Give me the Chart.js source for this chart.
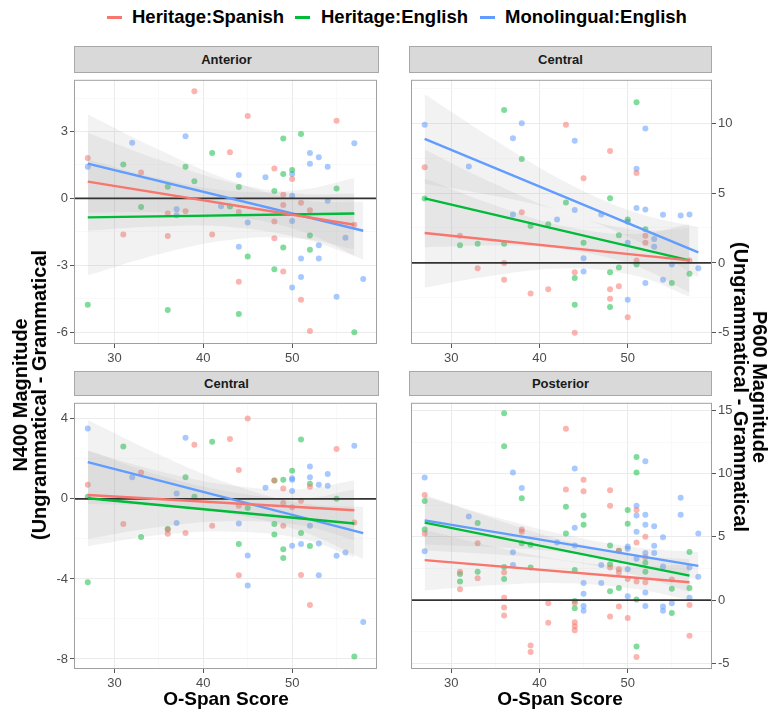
<!DOCTYPE html>
<html>
<head>
<meta charset="utf-8">
<script src="https://cdn.jsdelivr.net/npm/chart.js@4.4.0/dist/chart.umd.min.js"></script>
<style>
  html, body { margin: 0; padding: 0; background: #fff; }
  #fig { position: relative; width: 773px; height: 711px; overflow: hidden; font-family: 'Liberation Sans', Arial, sans-serif; color: #000; }
  canvas { position: absolute; }
  .strip { position: absolute; box-sizing: border-box; background: #d9d9d9; border: 1px solid #a8a8a8; font-weight: bold; font-size: 13px; color: #1a1a1a; text-align: center; }
  .key { position: absolute; top: 16px; height: 3px; }
  .leg { position: absolute; top: 6px; font-weight: bold; font-size: 18.5px; line-height: 22px; white-space: nowrap; }
  .xt { position: absolute; top: 688px; font-weight: bold; font-size: 19px; line-height: 22px; white-space: nowrap; transform: translateX(-50%); }
  .yt { position: absolute; font-weight: bold; font-size: 20px; line-height: 19px; white-space: nowrap; text-align: center; }
</style>
</head>
<body>
<div id="fig">
  <div class="key" style="left:107px;width:15px;background:#F8766D"></div>
  <div class="leg" style="left:132px">Heritage:Spanish</div>
  <div class="key" style="left:295px;width:15px;background:#00BA38"></div>
  <div class="leg" style="left:321px">Heritage:English</div>
  <div class="key" style="left:480px;width:15px;background:#619CFF"></div>
  <div class="leg" style="left:505px">Monolingual:English</div>

  <div class="strip" style="left:74px;top:46px;width:305px;height:27px;line-height:25px">Anterior</div>
  <div class="strip" style="left:409px;top:46px;width:303px;height:27px;line-height:25px">Central</div>
  <div class="strip" style="left:74px;top:371px;width:305px;height:25px;line-height:23px">Central</div>
  <div class="strip" style="left:409px;top:371px;width:303px;height:25px;line-height:23px">Posterior</div>

  <canvas id="c1" width="347" height="302" style="left:34px;top:70px"></canvas>
  <canvas id="c2" width="345" height="302" style="left:407px;top:70px"></canvas>
  <canvas id="c3" width="347" height="304" style="left:34px;top:393px"></canvas>
  <canvas id="c4" width="345" height="304" style="left:407px;top:393px"></canvas>

  <div class="xt" style="left:226px">O-Span Score</div>
  <div class="xt" style="left:560px">O-Span Score</div>
  <div class="yt" style="left:30px;top:395px;transform:translate(-50%,-50%) rotate(-90deg)">N400 Magnitude<br>(Ungrammatical - Grammatical</div>
  <div class="yt" style="left:750px;top:387px;transform:translate(-50%,-50%) rotate(90deg)">P600 Magnitude<br>(Ungrammatical - Grammatical</div>
</div>
<script>
// x axis: O-Span score
const xRange = [25.45, 59.55];
const xTicks = [30, 40, 50];
const xMinor = [35, 45, 55];

// N400, Anterior
const antRange = [-6.53, 5.32];
const antTicks = [-6, -3, 0, 3];
const antSpanish = [[27,1.81],[39,4.81],[33,1.16],[31,-1.62],[36,-0.68],[36,-1.69],[38,-0.58],[41,-1.62],[43,2.07],[45,3.70],[44,-0.61],[44,-3.74],[48,1.34],[48,-1.04],[48,-1.79],[49,0.16],[49,-0.29],[49,-3.28],[50,0.87],[51,-0.2],[51,-4.54],[52,-0.53],[52,-5.95],[55,3.48],[57,-1.18]];
const antEnglish = [[27,-4.77],[31,1.52],[33,-0.39],[36,0.52],[36,-5.01],[38,1.42],[39,0.77],[41,2.04],[43,-0.36],[44,0.51],[44,-5.19],[45,-2.6],[48,0.33],[48,-3.18],[49,2.69],[49,1.10],[49,-2.2],[50,1.27],[51,2.89],[52,-1.66],[52,-2.3],[55,0.45],[57,-6.0]];
const antMono = [[27,1.42],[32,2.5],[38,2.79],[37,-0.49],[37,-0.75],[42,-0.35],[44,1.05],[44,-2.17],[45,-1.08],[47,0.95],[50,1.1],[50,0.12],[50,-1.01],[50,-4.0],[51,-2.7],[51,-3.53],[52,2.04],[52,1.56],[53,1.85],[53,-2.1],[53,-2.7],[54,1.42],[54,-0.1],[55,-4.41],[56,-1.76],[57,2.47],[58,-3.61]];
const antFitSpanish = [[27,0.75],[57,-1.18]];
const antFitEnglish = [[27,-0.85],[57,-0.68]];
const antFitMono = [[27,1.56],[58,-1.45]];
// band rows: [x, lower, upper]
const antBandSpanish = [[27,-1.45,2.95],[35,-1.26,1.74],[43,-1.28,0.72],[51,-1.79,0.21],[57,-2.58,0.22]];
const antBandEnglish = [[27,-3.45,1.75],[35,-2.5,0.9],[43,-1.86,0.34],[51,-1.81,0.39],[57,-2.28,0.92]];
const antBandMono = [[27,-0.64,3.76],[35,-0.62,2.18],[43,-0.79,0.81],[51,-1.47,-0.07],[58,-2.75,-0.15]];

// P600, Central
const cenPRange = [-5.8, 13.1];
const cenPTicks = [-5, 0, 5, 10];
const cenPSpanish = [[27,6.85],[31,1.95],[33,-0.39],[36,0.0],[36,-1.2],[38,3.63],[39,-2.18],[41,-1.89],[43,9.89],[44,-0.67],[44,-4.99],[45,6.05],[48,8.0],[48,-1.89],[48,-2.57],[49,-1.66],[50,-3.89],[51,6.44],[51,0.18],[52,1.95],[52,1.45],[57,0.18]];
const cenPEnglish = [[27,4.6],[31,1.26],[33,1.38],[36,10.94],[36,1.38],[38,7.43],[39,2.64],[41,2.76],[43,4.32],[44,-1.08],[44,-2.99],[45,1.45],[48,4.62],[48,-0.67],[48,-3.15],[49,1.98],[49,-0.32],[50,3.1],[51,11.49],[51,-0.11],[52,2.41],[55,-1.43],[57,-0.78]];
const cenPMono = [[27,9.89],[32,6.9],[37,8.92],[38,10.0],[37,3.47],[42,3.1],[44,8.74],[44,3.79],[45,0.34],[45,-0.62],[47,3.47],[50,2.94],[50,1.45],[50,-2.64],[51,6.74],[51,3.93],[52,9.61],[52,3.82],[52,-1.43],[53,1.72],[53,1.15],[54,3.45],[54,-1.2],[55,-0.11],[56,3.4],[57,3.47],[58,-0.39]];
const cenPFitSpanish = [[27,2.14],[57,0.18]];
const cenPFitEnglish = [[27,4.62],[57,0.18]];
const cenPFitMono = [[27,8.87],[58,0.76]];
const cenPBandSpanish = [[27,-1.76,6.04],[35,-0.88,4.12],[43,-0.4,2.6],[51,-0.93,2.07],[57,-2.42,2.78]];
const cenPBandEnglish = [[27,1.12,8.12],[35,1.24,5.64],[43,0.95,3.55],[51,-0.23,2.37],[57,-2.12,2.48]];
const cenPBandMono = [[27,5.67,12.07],[35,4.78,8.78],[43,3.58,5.78],[51,1.59,3.59],[58,-1.04,2.56]];

// N400, Central
const cenNRange = [-8.5, 4.8];
const cenNTicks = [-8, -4, 0, 4];
const cenNSpanish = [[27,0.71],[31,-1.26],[33,1.32],[36,-1.53],[36,-1.74],[38,-1.71],[39,2.7],[41,-1.34],[43,2.99],[44,1.44],[44,-0.34],[44,-3.81],[45,4.02],[48,0.92],[49,0.52],[49,-0.21],[49,-1.34],[50,-0.42],[51,-0.1],[51,-3.8],[52,0.6],[52,-5.3],[55,2.49],[57,-1.18]];
const cenNEnglish = [[27,-4.17],[27,0.11],[31,2.62],[33,-1.91],[36,-1.5],[38,1.08],[39,0.11],[41,2.86],[44,-2.26],[45,-0.45],[48,0.92],[48,-1.26],[48,-1.78],[49,0.95],[49,-2.52],[49,-2.96],[50,1.41],[51,2.97],[51,-1.7],[52,0.76],[52,-2.36],[55,0.0],[57,-7.88]];
const cenNMono = [[27,3.51],[32,1.08],[38,3.05],[37,0.27],[37,-1.21],[44,-1.23],[45,-2.83],[45,-4.33],[47,0.55],[50,1.03],[50,0.95],[50,0.39],[50,-2.34],[51,-2.26],[52,1.62],[52,1.08],[52,-1.34],[53,0.71],[53,-2.23],[53,-3.81],[54,1.24],[54,0.65],[55,-2.84],[56,-2.68],[57,2.65],[58,-6.15]];
const cenNFitSpanish = [[27,0.19],[57,-0.57]];
const cenNFitEnglish = [[27,0.03],[57,-1.23]];
const cenNFitMono = [[27,1.84],[58,-1.71]];
const cenNBandSpanish = [[27,-2.01,2.39],[35,-1.41,1.39],[43,-1.12,0.68],[51,-1.32,0.48],[57,-2.07,0.93]];
const cenNBandEnglish = [[27,-2.37,2.43],[35,-1.81,1.19],[43,-1.64,0.36],[51,-1.98,0.02],[57,-2.93,0.47]];
const cenNBandMono = [[27,-0.26,3.94],[35,-0.38,2.22],[43,-0.74,0.76],[51,-1.61,-0.21],[58,-3.01,-0.41]];

// P600, Posterior
const postRange = [-5.45, 15.6];
const postTicks = [-5, 0, 5, 10, 15];
const postSpanish = [[27,8.3],[27,5.27],[31,2.24],[31,0.85],[33,4.5],[33,1.72],[36,2.19],[36,0.18],[36,-0.59],[36,-1.21],[38,5.58],[38,5.4],[39,-3.6],[39,-4.11],[41,-0.26],[41,-1.8],[43,13.55],[43,8.74],[44,-0.26],[44,-1.75],[44,-2.06],[44,-2.39],[45,9.51],[45,8.61],[48,8.69],[48,7.46],[48,2.57],[48,-1.29],[49,3.91],[49,2.44],[49,2.19],[49,-0.51],[50,1.67],[50,-1.41],[51,7.12],[51,4.55],[51,1.47],[51,-4.5],[52,5.01],[52,3.39],[52,1.41],[55,1.62],[57,-0.39],[57,-2.83]];
const postEnglish = [[27,7.84],[27,5.58],[31,2.06],[31,1.47],[33,6.09],[33,2.24],[36,14.78],[36,12.16],[36,2.62],[36,1.67],[38,8.05],[38,4.5],[39,4.37],[39,2.57],[43,7.38],[43,5.27],[44,2.37],[44,-0.08],[44,-0.64],[45,6.68],[45,5.96],[48,4.32],[48,2.83],[48,0.69],[49,3.91],[49,0.95],[50,7.12],[50,6.04],[51,11.31],[51,10.08],[51,0.05],[51,-3.68],[52,2.96],[52,2.24],[55,0.9],[55,-1.03],[57,3.8],[57,0.95]];
const postMono = [[27,9.69],[27,3.86],[32,6.61],[37,10.08],[37,3.78],[37,2.78],[38,8.87],[42,4.55],[44,10.41],[44,5.71],[44,4.32],[45,1.36],[45,0.51],[45,-0.46],[45,-0.85],[47,2.78],[47,1.36],[50,4.24],[50,4.06],[50,2.44],[50,0.31],[51,7.46],[51,6.68],[51,5.4],[51,3.26],[52,10.98],[52,6.74],[52,5.96],[52,3.73],[52,0.59],[52,-0.46],[53,5.84],[53,4.29],[53,3.73],[54,4.96],[54,2.65],[54,-0.51],[54,-0.85],[55,-0.26],[56,8.1],[56,6.74],[57,2.57],[57,0.18],[58,5.27],[58,1.85]];
const postFitSpanish = [[27,3.16],[57,1.41]];
const postFitEnglish = [[27,6.12],[57,1.93]];
const postFitMono = [[27,6.3],[58,2.7]];
const postBandSpanish = [[27,0.76,5.56],[35,1.19,4.19],[43,1.33,3.13],[51,0.86,2.66],[57,0.01,2.81]];
const postBandEnglish = [[27,3.92,8.32],[35,3.6,6.4],[43,3.09,4.69],[51,1.97,3.57],[57,0.63,3.23]];
const postBandMono = [[27,4.4,8.2],[35,4.17,6.57],[43,3.74,5.14],[51,2.86,4.16],[58,1.6,3.8]];

const lineColors = ['#F8766D', '#00BA38', '#619CFF'];
const pointColors = ['rgba(248,118,109,0.55)', 'rgba(0,186,56,0.5)', 'rgba(97,156,255,0.55)'];
const bandFill = 'rgba(150,150,150,0.12)';
const tickFont = { family: "'Liberation Sans', Arial, sans-serif", size: 13 };

// draws the panel frame like ggplot's panel.border
const frame = {
  id: 'frame',
  afterDraw(chart) {
    const { left, top, right, bottom } = chart.chartArea;
    const ctx = chart.ctx;
    ctx.save();
    ctx.strokeStyle = '#a0a0a0';
    ctx.lineWidth = 1;
    ctx.strokeRect(left + 0.5, top + 0.5, right - left - 1, bottom - top - 1);
    ctx.restore();
  }
};

function gridOpts(majors) {
  const isMajor = c => majors.includes(c.tick.value);
  return {
    color: c => isMajor(c) ? '#ebebeb' : '#f5f5f5',
    lineWidth: c => isMajor(c) ? 1 : 0.6,
    tickColor: c => isMajor(c) ? '#555555' : 'rgba(0,0,0,0)',
    tickLength: 4
  };
}

function makePanel(id, yPos, yRange, yTicks, groups) {
  const step = yTicks[1] - yTicks[0];
  const yMinor = [yTicks[0] - step / 2, ...yTicks.map(v => v + step / 2)]
    .filter(v => v > yRange[0] && v < yRange[1]);
  const datasets = [];

  groups.forEach((g, i) => {
    datasets.push({
      type: 'line', data: g.fit.map(([x, y]) => ({ x, y })),
      borderColor: lineColors[i], borderWidth: 2.4, pointRadius: 0, order: 0
    });
  });
  // geom_hline at zero
  datasets.push({
    type: 'line', data: xRange.map(x => ({ x, y: 0 })),
    borderColor: '#333333', borderWidth: 1.6, pointRadius: 0, order: 1
  });
  groups.forEach(g => {
    datasets.push({
      type: 'line', data: g.band.map(([x, lo, hi]) => ({ x, y: hi })),
      fill: '+1', backgroundColor: bandFill, borderColor: 'rgba(0,0,0,0)',
      pointRadius: 0, tension: 0.4, order: 2
    });
    datasets.push({
      type: 'line', data: g.band.map(([x, lo]) => ({ x, y: lo })),
      fill: false, borderColor: 'rgba(0,0,0,0)', pointRadius: 0, tension: 0.4, order: 2
    });
  });
  groups.forEach((g, i) => {
    datasets.push({
      type: 'scatter', data: g.pts.map(([x, y]) => ({ x, y })),
      backgroundColor: pointColors[i], borderWidth: 0, pointRadius: 3, order: 3
    });
  });

  new Chart(document.getElementById(id), {
    data: { datasets },
    plugins: [frame],
    options: {
      responsive: false,
      animation: false,
      events: [],
      layout: { padding: { top: 2, bottom: 0, left: yPos === 'left' ? 0 : 2, right: yPos === 'left' ? 2 : 0 } },
      plugins: { legend: { display: false }, tooltip: { enabled: false } },
      scales: {
        x: {
          type: 'linear', min: xRange[0], max: xRange[1],
          afterBuildTicks: s => { s.ticks = [...xTicks, ...xMinor].sort((a, b) => a - b).map(v => ({ value: v })); },
          afterFit: s => { s.height = 28; },
          grid: gridOpts(xTicks),
          border: { display: false },
          ticks: { callback: v => xTicks.includes(v) ? String(v) : '', font: tickFont, color: '#4d4d4d', padding: 3, maxRotation: 0, autoSkip: false }
        },
        y: {
          type: 'linear', position: yPos, min: yRange[0], max: yRange[1],
          afterBuildTicks: s => { s.ticks = [...yTicks, ...yMinor].sort((a, b) => a - b).map(v => ({ value: v })); },
          afterFit: s => { s.width = 40; },
          grid: gridOpts(yTicks),
          border: { display: false },
          ticks: { callback: v => yTicks.includes(v) ? String(v) : '', font: tickFont, color: '#4d4d4d', padding: 2, autoSkip: false }
        }
      }
    }
  });
}

makePanel('c1', 'left', antRange, antTicks, [
  { pts: antSpanish, fit: antFitSpanish, band: antBandSpanish },
  { pts: antEnglish, fit: antFitEnglish, band: antBandEnglish },
  { pts: antMono, fit: antFitMono, band: antBandMono }
]);
makePanel('c2', 'right', cenPRange, cenPTicks, [
  { pts: cenPSpanish, fit: cenPFitSpanish, band: cenPBandSpanish },
  { pts: cenPEnglish, fit: cenPFitEnglish, band: cenPBandEnglish },
  { pts: cenPMono, fit: cenPFitMono, band: cenPBandMono }
]);
makePanel('c3', 'left', cenNRange, cenNTicks, [
  { pts: cenNSpanish, fit: cenNFitSpanish, band: cenNBandSpanish },
  { pts: cenNEnglish, fit: cenNFitEnglish, band: cenNBandEnglish },
  { pts: cenNMono, fit: cenNFitMono, band: cenNBandMono }
]);
makePanel('c4', 'right', postRange, postTicks, [
  { pts: postSpanish, fit: postFitSpanish, band: postBandSpanish },
  { pts: postEnglish, fit: postFitEnglish, band: postBandEnglish },
  { pts: postMono, fit: postFitMono, band: postBandMono }
]);
</script>
</body>
</html>
